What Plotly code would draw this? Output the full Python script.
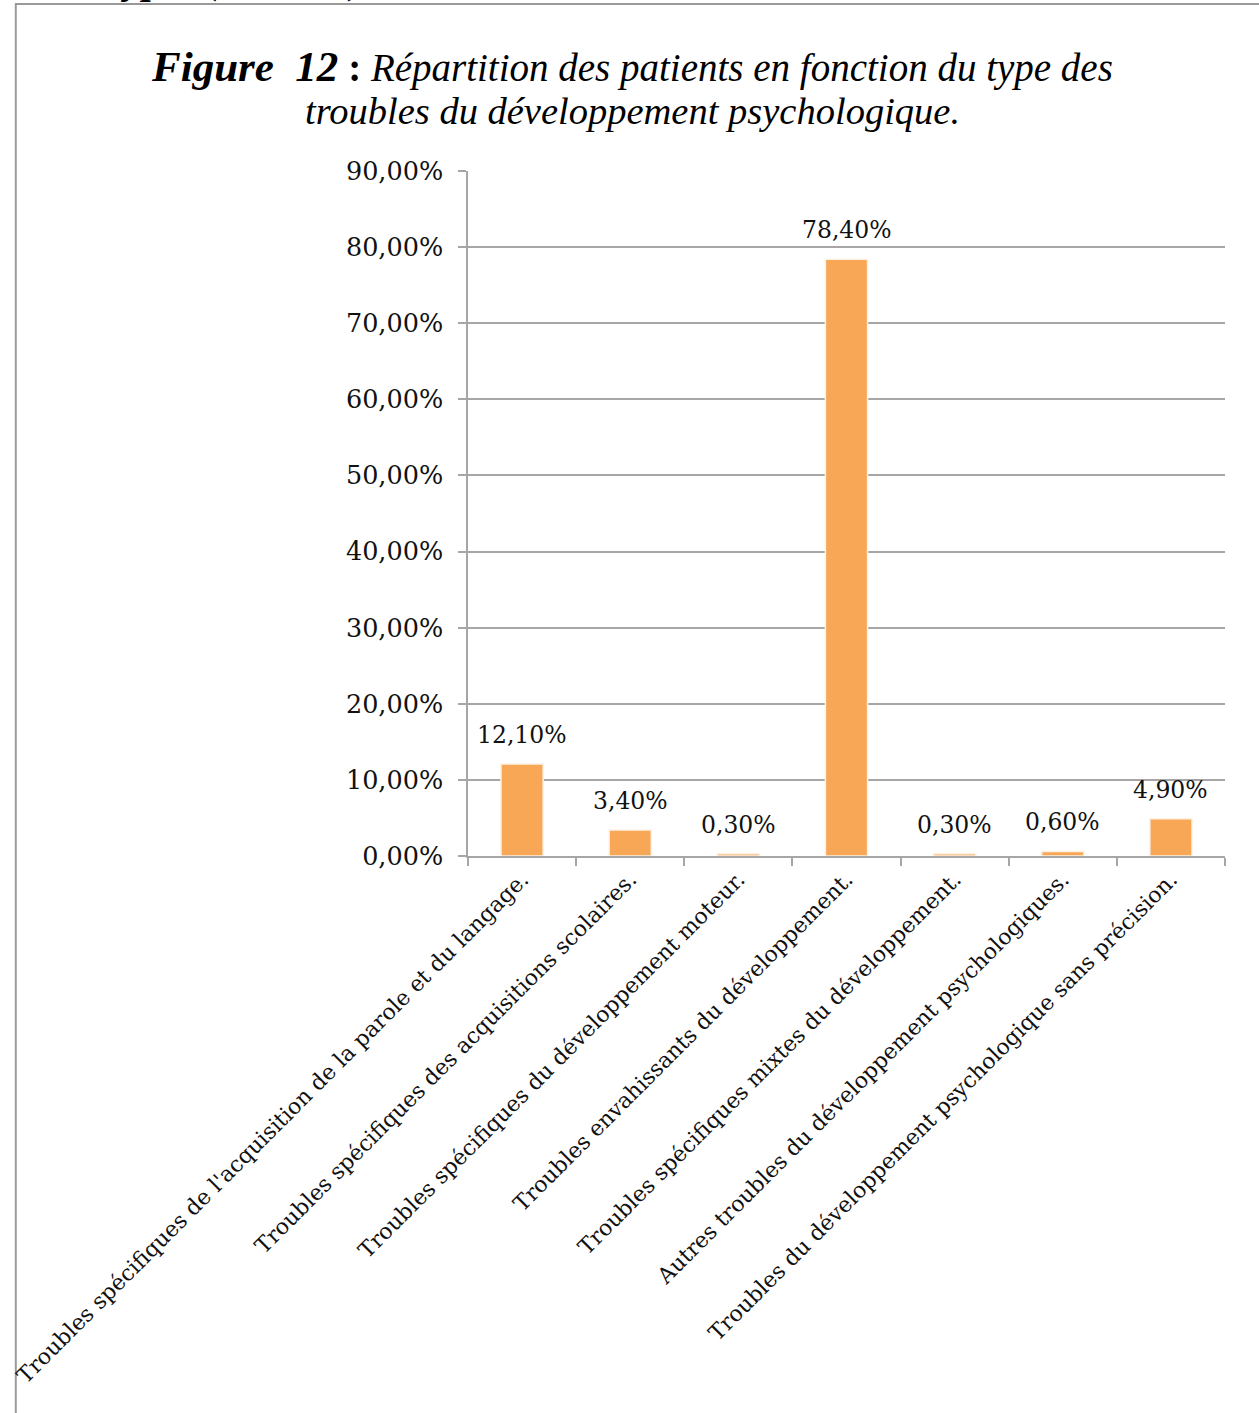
import plotly.graph_objects as go

categories = [
    "Troubles spécifiques de l'acquisition de la parole et du langage.",
    "Troubles spécifiques des acquisitions scolaires.",
    "Troubles spécifiques du développement moteur.",
    "Troubles envahissants du développement.",
    "Troubles spécifiques mixtes du développement.",
    "Autres troubles du développement psychologiques.",
    "Troubles du développement psychologique sans précision.",
]
values = [12.1, 3.4, 0.3, 78.4, 0.3, 0.6, 4.9]
value_labels = ["12,10%", "3,40%", "0,30%", "78,40%", "0,30%", "0,60%", "4,90%"]

W, H = 1259, 1413
L, R, T, B = 465, 1225, 171, 856  # plot area pixel box


def px(x):
    return (x - L) / (R - L)


def py(y):
    return (B - y) / (B - T)


FONT = "DejaVu Serif"
GRID = "#a6a6a6"
BAR = "#f8a757"

fig = go.Figure()
fig.add_trace(go.Bar(
    x=categories, y=values, width=0.39,
    marker=dict(color=BAR, line=dict(color="#fdf1e4", width=1.5)),
    hoverinfo="x+y",
))

annotations = []
for c, v, t in zip(categories, values, value_labels):
    annotations.append(dict(
        x=c, y=v, xref="x", yref="y", text=t, showarrow=False,
        yanchor="bottom", yshift=13,
        font=dict(family=FONT, size=23.5, color="#111111"),
    ))

# Title (two lines)
annotations.append(dict(
    x=px(630), y=py(66), xref="paper", yref="paper", showarrow=False,
    xanchor="center", yanchor="middle",
    text=("<b><i><span style='font-size:43px'>Figure  12</span></i> :</b> "
          "<i>Répartition des patients en fonction du type des</i>"),
    font=dict(family="Liberation Serif", size=39, color="#000000"),
))
annotations.append(dict(
    x=px(630), y=py(111), xref="paper", yref="paper", showarrow=False,
    xanchor="center", yanchor="middle",
    text="<i>troubles du développement psychologique.</i>",
    font=dict(family="Liberation Serif", size=38.5, color="#000000"),
))
# Partially cut text at top of page (only descenders visible)
annotations.append(dict(
    x=px(108), y=py(4), xref="paper", yref="paper", showarrow=False,
    xanchor="left", yanchor="bottom",
    text="<b><i>types (CIM-10)</i></b>",
    font=dict(family="Liberation Serif", size=40, color="#000000"),
))

fig.update_layout(
    width=W, height=H,
    margin=dict(l=L, r=W - R, t=T, b=H - B, pad=0),
    paper_bgcolor="white", plot_bgcolor="white",
    separators=", ",
    showlegend=False,
    annotations=annotations,
    shapes=[dict(
        type="rect", xref="paper", yref="paper",
        x0=px(11), x1=px(W + 20), y0=py(H + 20), y1=py(4),
        line=dict(color="#9a9a9a", width=2), fillcolor="rgba(0,0,0,0)",
        layer="below",
    )],
    font=dict(family=FONT, color="#111111"),
)
fig.update_yaxes(
    range=[0, 90], dtick=10, tick0=0,
    tickformat=".2f", ticksuffix="%",
    showgrid=True, gridcolor=GRID, gridwidth=1.5,
    showline=True, linecolor=GRID, linewidth=1.5,
    ticks="outside", ticklen=8, tickcolor=GRID, tickwidth=1.5,
    tickfont=dict(family=FONT, size=25.5, color="#111111"),
    ticklabelstandoff=10,
    zeroline=False, fixedrange=True,
)
fig.update_xaxes(
    showgrid=False,
    showline=True, linecolor=GRID, linewidth=1.5,
    ticks="outside", ticklen=8, tickcolor=GRID, tickwidth=1.5,
    tickson="boundaries",
    tickangle=-45,
    tickfont=dict(family=FONT, size=22, color="#111111"),
    fixedrange=True,
)

fig.write_html(
    "out.html",
    config={"displayModeBar": False},
    post_script="document.body.style.margin='0';document.body.style.overflow='hidden';",
)
